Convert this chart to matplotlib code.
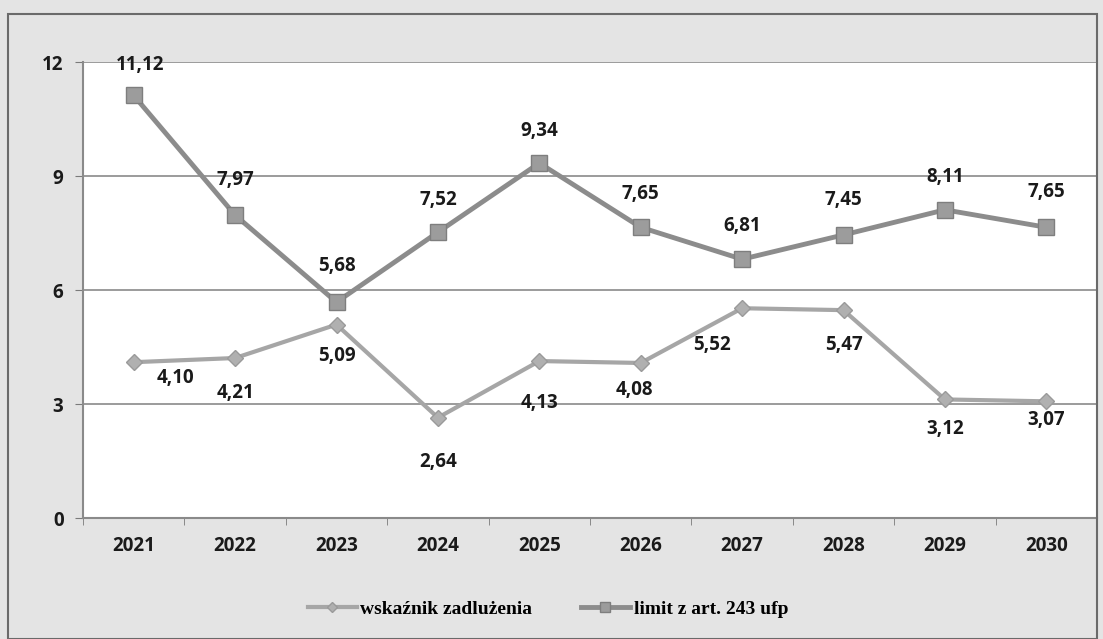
import matplotlib
matplotlib.use('Agg')
from matplotlib import pyplot
from matplotlib.patches import Rectangle

years = ['2021', '2022', '2023', '2024', '2025', '2026', '2027', '2028', '2029', '2030']
wskaznik = [4.10, 4.21, 5.09, 2.64, 4.13, 4.08, 5.52, 5.47, 3.12, 3.07]
limit = [11.12, 7.97, 5.68, 7.52, 9.34, 7.65, 6.81, 7.45, 8.11, 7.65]

# label offsets in pixels (dx, dy)
wsk_offsets = [(42, -16), (0, -35), (0, -31), (0, -44), (0, -42),
               (-6, -27), (-30, -37), (0, -35), (0, -30), (0, -19)]
lim_offsets = [(6, 30), (0, 35), (0, 36), (0, 32), (0, 32),
               (0, 33), (0, 33), (0, 35), (0, 33), (0, 35)]

fmt = lambda v: f'{v:.2f}'.replace('.', ',')

fig = pyplot.figure(figsize=(11.03, 6.39), dpi=100)
fig.patch.set_facecolor('#e4e4e4')
fig.patches.append(Rectangle((8 / 1103, 0), 1089 / 1103, 625 / 639,
                             transform=fig.transFigure, fill=False,
                             edgecolor='#6a6a6a', linewidth=1.5))

ax = fig.add_axes([83 / 1103, 121 / 639, 1014 / 1103, 456 / 639])
ax.set_facecolor('white')
x = list(range(len(years)))

ax.plot(x, wskaznik, color='#a6a6a6', linewidth=3, marker='D', markersize=8,
        markerfacecolor='#b0b0b0', markeredgecolor='#9a9a9a',
        label='wskaźnik zadlużenia', zorder=3)
ax.plot(x, limit, color='#8c8c8c', linewidth=3.5, marker='s', markersize=11,
        markerfacecolor='#9c9c9c', markeredgecolor='#7e7e7e',
        label='limit z art. 243 ufp', zorder=4)

lab_font = dict(family='Open Sans', fontsize=13.5, fontweight='bold', color='#1a1a1a')
for xi, v, off in zip(x, wskaznik, wsk_offsets):
    ax.annotate(fmt(v), (xi, v), xytext=off, textcoords='offset pixels',
                ha='center', va='center', **lab_font)
for xi, v, off in zip(x, limit, lim_offsets):
    ax.annotate(fmt(v), (xi, v), xytext=off, textcoords='offset pixels',
                ha='center', va='center', **lab_font)

ax.set_xlim(-0.5, 9.5)
ax.set_ylim(0, 12)
ax.set_yticks([0, 3, 6, 9, 12])
ax.set_xticks(x)
ax.set_xticklabels(years)
ax.set_xticks([i - 0.5 for i in range(11)], minor=True)
ax.tick_params(axis='x', which='major', length=0, pad=13)
ax.tick_params(axis='x', which='minor', length=5, color='#7a7a7a')
ax.tick_params(axis='y', length=6, color='#7a7a7a', pad=8)
for t in ax.get_xticklabels() + ax.get_yticklabels():
    t.set_fontfamily('Open Sans')
    t.set_fontweight('bold')
    t.set_fontsize(13.5)
    t.set_color('#1a1a1a')
ax.grid(axis='y', color='#8a8a8a', linewidth=1.2)
ax.set_axisbelow(True)
ax.spines['top'].set_visible(False)
ax.spines['right'].set_color('#c8c8c8')
ax.spines['left'].set_color('#8a8a8a')
ax.spines['bottom'].set_color('#8a8a8a')
ax.spines['left'].set_linewidth(1.5)
ax.spines['bottom'].set_linewidth(1.5)

fig.legend(loc='center', bbox_to_anchor=(548 / 1103, 30 / 639), ncol=2,
           frameon=False, columnspacing=2.5, handlelength=2.5, handletextpad=0.2,
           markerscale=0.7,
           prop=dict(family='Liberation Serif', size=14, weight='bold'))

fig.savefig('out.png', dpi=100, facecolor=fig.get_facecolor())
